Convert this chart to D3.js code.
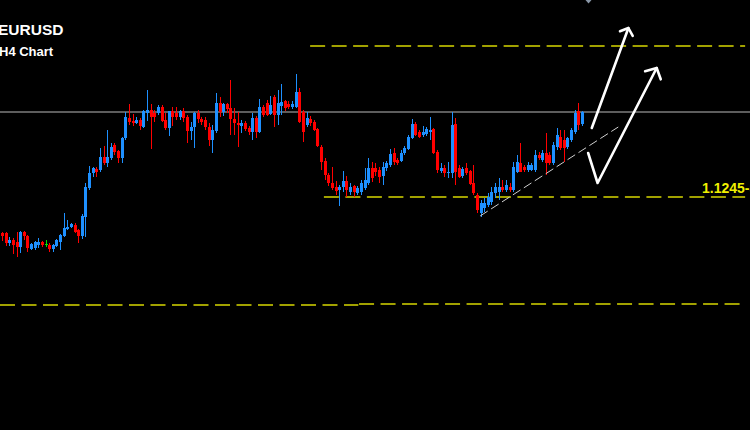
<!DOCTYPE html>
<html><head><meta charset="utf-8">
<script src="https://cdn.jsdelivr.net/npm/d3@7"></script>
<style>html,body{margin:0;padding:0;background:#000;overflow:hidden}svg{display:block}</style>
</head><body><svg id="c" width="750" height="430"></svg>
<script>
// EURUSD H4 candles
const open = [
1.1209,1.1209,1.1199,1.1202,1.1200,1.1195,1.1210,1.1206,1.1193,1.1194,
1.1197,1.1200,1.1198,1.1197,1.1193,1.1196,1.1200,1.1206,1.1213,1.1215,
1.1217,1.1212,1.1206,1.1225,1.1254,1.1269,1.1273,1.1272,1.1285,1.1279,
1.1284,1.1297,1.1291,1.1284,1.1304,1.1324,1.1321,1.1319,1.1322,1.1315,
1.1329,1.1332,1.1329,1.1329,1.1335,1.1322,1.1314,1.1331,1.1329,1.1325,
1.1331,1.1325,1.1311,1.1315,1.1329,1.1323,1.1322,1.1315,1.1302,1.1311,
1.1339,1.1330,1.1338,1.1334,1.1323,1.1319,1.1316,1.1319,1.1314,1.1310,
1.1324,1.1310,1.1335,1.1339,1.1328,1.1345,1.1327,1.1336,1.1341,1.1338,
1.1335,1.1335,1.1350,1.1330,1.1317,1.1323,1.1320,1.1313,1.1295,1.1281,
1.1267,1.1259,1.1255,1.1252,1.1255,1.1261,1.1250,1.1256,1.1249,1.1250,
1.1254,1.1259,1.1274,1.1274,1.1272,1.1266,1.1274,1.1277,1.1289,1.1282,
1.1281,1.1289,1.1293,1.1304,1.1318,1.1310,1.1307,1.1308,1.1310,1.1313,
1.1290,1.1271,1.1274,1.1269,1.1269,1.1318,1.1274,1.1266,1.1274,1.1271,
1.1259,1.1247,1.1229,1.1234,1.1237,1.1240,1.1249,1.1250,1.1255,1.1252,
1.1255,1.1252,1.1270,1.1279,1.1275,1.1272,1.1272,1.1272,1.1287,1.1282,
1.1289,1.1287,1.1279,1.1295,1.1305,1.1302,1.1295,1.1302,1.1310,1.1331,
1.1318];
const close = [
1.1206,1.1199,1.1202,1.1197,1.1195,1.1210,1.1206,1.1194,1.1198,1.1200,
1.1200,1.1197,1.1198,1.1193,1.1197,1.1202,1.1207,1.1214,1.1215,1.1218,
1.1210,1.1206,1.1226,1.1255,1.1269,1.1274,1.1270,1.1285,1.1279,1.1285,
1.1295,1.1290,1.1284,1.1304,1.1325,1.1320,1.1319,1.1322,1.1316,1.1331,
1.1332,1.1325,1.1325,1.1335,1.1321,1.1314,1.1331,1.1325,1.1325,1.1331,
1.1324,1.1311,1.1315,1.1329,1.1323,1.1320,1.1315,1.1302,1.1312,1.1339,
1.1330,1.1338,1.1333,1.1323,1.1319,1.1317,1.1319,1.1313,1.1310,1.1324,
1.1310,1.1335,1.1327,1.1327,1.1337,1.1327,1.1339,1.1340,1.1334,1.1335,
1.1338,1.1350,1.1320,1.1310,1.1324,1.1319,1.1312,1.1296,1.1280,1.1267,
1.1259,1.1254,1.1251,1.1255,1.1261,1.1252,1.1255,1.1250,1.1254,1.1259,
1.1262,1.1274,1.1264,1.1270,1.1265,1.1275,1.1279,1.1288,1.1280,1.1279,
1.1289,1.1294,1.1305,1.1318,1.1307,1.1305,1.1310,1.1313,1.1312,1.1289,
1.1272,1.1274,1.1269,1.1270,1.1317,1.1270,1.1265,1.1273,1.1269,1.1258,
1.1249,1.1232,1.1239,1.1239,1.1245,1.1250,1.1255,1.1255,1.1252,1.1257,
1.1252,1.1275,1.1280,1.1270,1.1272,1.1277,1.1277,1.1287,1.1284,1.1289,
1.1279,1.1279,1.1297,1.1307,1.1294,1.1294,1.1304,1.1312,1.1329,1.1317,
1.1330];
const high = [
1.1210,1.1210,1.1205,1.1204,1.1210,1.1211,1.1211,1.1207,1.1199,1.1201,
1.1204,1.1201,1.1202,1.1199,1.1198,1.1203,1.1208,1.1229,1.1222,1.1219,
1.1219,1.1213,1.1228,1.1259,1.1276,1.1275,1.1275,1.1294,1.1296,1.1312,
1.1299,1.1299,1.1292,1.1305,1.1330,1.1338,1.1328,1.1325,1.1324,1.1332,
1.1352,1.1338,1.1332,1.1337,1.1337,1.1329,1.1331,1.1335,1.1335,1.1332,
1.1334,1.1327,1.1320,1.1330,1.1332,1.1325,1.1325,1.1319,1.1317,1.1349,
1.1345,1.1339,1.1339,1.1362,1.1334,1.1330,1.1322,1.1321,1.1316,1.1329,
1.1326,1.1343,1.1337,1.1342,1.1346,1.1347,1.1352,1.1358,1.1342,1.1341,
1.1341,1.1368,1.1354,1.1332,1.1330,1.1326,1.1322,1.1314,1.1297,1.1284,
1.1269,1.1275,1.1261,1.1257,1.1271,1.1266,1.1259,1.1257,1.1256,1.1262,
1.1274,1.1284,1.1280,1.1279,1.1275,1.1280,1.1281,1.1293,1.1294,1.1284,
1.1292,1.1296,1.1307,1.1323,1.1320,1.1312,1.1316,1.1315,1.1325,1.1314,
1.1292,1.1279,1.1277,1.1280,1.1330,1.1324,1.1277,1.1275,1.1279,1.1272,
1.1277,1.1249,1.1242,1.1244,1.1249,1.1255,1.1259,1.1264,1.1262,1.1262,
1.1259,1.1280,1.1287,1.1299,1.1277,1.1280,1.1279,1.1292,1.1290,1.1292,
1.1309,1.1290,1.1300,1.1314,1.1312,1.1312,1.1305,1.1314,1.1332,1.1339,
1.1331];
const low = [
1.1201,1.1196,1.1196,1.1188,1.1185,1.1189,1.1202,1.1190,1.1192,1.1192,
1.1194,1.1195,1.1195,1.1190,1.1190,1.1195,1.1192,1.1205,1.1212,1.1214,
1.1209,1.1199,1.1203,1.1205,1.1252,1.1265,1.1265,1.1270,1.1277,1.1275,
1.1282,1.1287,1.1279,1.1279,1.1302,1.1317,1.1316,1.1318,1.1312,1.1314,
1.1321,1.1293,1.1320,1.1327,1.1320,1.1312,1.1306,1.1316,1.1322,1.1322,
1.1320,1.1299,1.1302,1.1294,1.1319,1.1317,1.1312,1.1296,1.1289,1.1309,
1.1325,1.1326,1.1329,1.1307,1.1307,1.1295,1.1309,1.1311,1.1307,1.1302,
1.1304,1.1309,1.1325,1.1326,1.1327,1.1315,1.1317,1.1327,1.1331,1.1333,
1.1333,1.1334,1.1319,1.1300,1.1315,1.1316,1.1311,1.1295,1.1272,1.1262,
1.1256,1.1252,1.1247,1.1236,1.1250,1.1245,1.1247,1.1245,1.1247,1.1247,
1.1252,1.1257,1.1260,1.1266,1.1259,1.1257,1.1271,1.1275,1.1277,1.1277,
1.1280,1.1287,1.1292,1.1303,1.1306,1.1304,1.1305,1.1306,1.1302,1.1288,
1.1269,1.1269,1.1265,1.1264,1.1264,1.1257,1.1264,1.1264,1.1267,1.1257,
1.1247,1.1229,1.1225,1.1230,1.1235,1.1237,1.1244,1.1242,1.1250,1.1250,
1.1250,1.1250,1.1269,1.1270,1.1270,1.1270,1.1271,1.1270,1.1282,1.1280,
1.1267,1.1277,1.1277,1.1292,1.1292,1.1280,1.1293,1.1300,1.1308,1.1312,
1.1316];

// Horizontal levels: [price, fromIndex]
const greyLevel = 1.1330;
const yellowLevels = [
  {price: 1.1396, from: 85.0, to: 205},
  {price: 1.1245, from: 88.8, to: 205},
  {price: 1.1137, from: -1, to: 98.3},
  {price: 1.1138, from: 98.5, to: 205}
];
const levelLabel = "1.1245-50";
const labelPrice = 1.1245;

// Trend line and arrows (candle index, price)
const trendLine = [[131.9, 1.1226], [170.0, 1.1315]];
const arrow1 = [[162.7, 1.1314], [172.8, 1.1414]];
const arrow2 = [[161.7, 1.1289], [164.3, 1.1259], [180.6, 1.1374]];

const W = 750, H = 430;
const svg = d3.select("#c");
svg.append("rect").attr("width", W).attr("height", H).attr("fill", "#000");

const x = d3.scaleLinear().domain([0, 160]).range([2, 582]);
const y = d3.scaleLinear().domain([1.1012, 1.1442]).range([430, 0]);

// grey line
svg.append("line").attr("x1", 0).attr("x2", W)
  .attr("y1", y(greyLevel)).attr("y2", y(greyLevel))
  .attr("stroke", "#7c7c7c").attr("stroke-width", 1.5);

// yellow dashed levels
svg.selectAll(".lvl").data(yellowLevels).join("line")
  .attr("x1", d => Math.max(0, x(d.from))).attr("x2", d => Math.min(W, x(d.to)))
  .attr("y1", d => y(d.price)).attr("y2", d => y(d.price))
  .attr("stroke", "#d6d600").attr("stroke-width", 1.5)
  .attr("stroke-dasharray", "15,6.5");

// candles
const n = open.length;
const data = d3.range(n).map(i => ({i, o: open[i], c: close[i], h: high[i], l: low[i]}));
const col = d => d.c > d.o ? "#1e90ff" : (d.c < d.o ? "#ff0000" : "#00e000");
const g = svg.append("g").attr("shape-rendering", "crispEdges");
g.selectAll(".wick").data(data).join("rect")
  .attr("x", d => Math.round(x(d.i)))
  .attr("width", 1)
  .attr("y", d => Math.round(y(d.h)))
  .attr("height", d => Math.max(1, Math.round(y(d.l)) - Math.round(y(d.h))))
  .attr("fill", col);
g.selectAll(".body").data(data).join("rect")
  .attr("x", d => Math.round(x(d.i)) - 1)
  .attr("width", 3)
  .attr("y", d => Math.round(y(Math.max(d.o, d.c))))
  .attr("height", d => Math.max(1, Math.round(y(Math.min(d.o, d.c))) - Math.round(y(Math.max(d.o, d.c)))))
  .attr("fill", col);

// trend line
svg.append("line")
  .attr("x1", x(trendLine[0][0])).attr("y1", y(trendLine[0][1]))
  .attr("x2", x(trendLine[1][0])).attr("y2", y(trendLine[1][1]))
  .attr("stroke", "#d0d0d0").attr("stroke-width", 1).attr("stroke-dasharray", "9,4");

// arrows
const line = d3.line().x(p => x(p[0])).y(p => y(p[1]));
function drawArrow(pts, len, ang) {
  svg.append("path").attr("d", line(pts)).attr("fill", "none")
    .attr("stroke", "#fff").attr("stroke-width", 2.6)
    .attr("stroke-linecap", "round").attr("stroke-linejoin", "round");
  const a = pts[pts.length - 2], b = pts[pts.length - 1];
  const tx = x(b[0]), ty = y(b[1]);
  const th = Math.atan2(y(a[1]) - ty, x(a[0]) - tx);
  const p1 = [tx + len * Math.cos(th + ang), ty + len * Math.sin(th + ang)];
  const p2 = [tx + len * Math.cos(th - ang), ty + len * Math.sin(th - ang)];
  svg.append("path").attr("d", `M${p1[0]},${p1[1]}L${tx},${ty}L${p2[0]},${p2[1]}`)
    .attr("fill", "none").attr("stroke", "#fff").attr("stroke-width", 2.6)
    .attr("stroke-linecap", "round").attr("stroke-linejoin", "round");
}
drawArrow(arrow1, 9, 0.85);
drawArrow(arrow2, 12, 0.82);

// small grey marker at top
const mx = x(161.8);
svg.append("path").attr("d", `M${mx - 3},0L${mx + 3},0L${mx},3.5Z`).attr("fill", "#8a97a8");

// texts
svg.append("text").attr("x", -2).attr("y", 35).text("EURUSD")
  .attr("fill", "#fff").attr("font-family", "Liberation Sans, Arial, sans-serif")
  .attr("font-weight", "bold").attr("font-size", 15.5);
svg.append("text").attr("x", -1).attr("y", 56).text("H4 Chart")
  .attr("fill", "#fff").attr("font-family", "Liberation Sans, Arial, sans-serif")
  .attr("font-weight", "bold").attr("font-size", 13);
svg.append("text").attr("x", 702).attr("y", y(labelPrice) - 4).text(levelLabel)
  .attr("fill", "#f0f000").attr("font-family", "Liberation Sans, Arial, sans-serif")
  .attr("font-weight", "bold").attr("font-size", 14);
</script>
</body></html>
